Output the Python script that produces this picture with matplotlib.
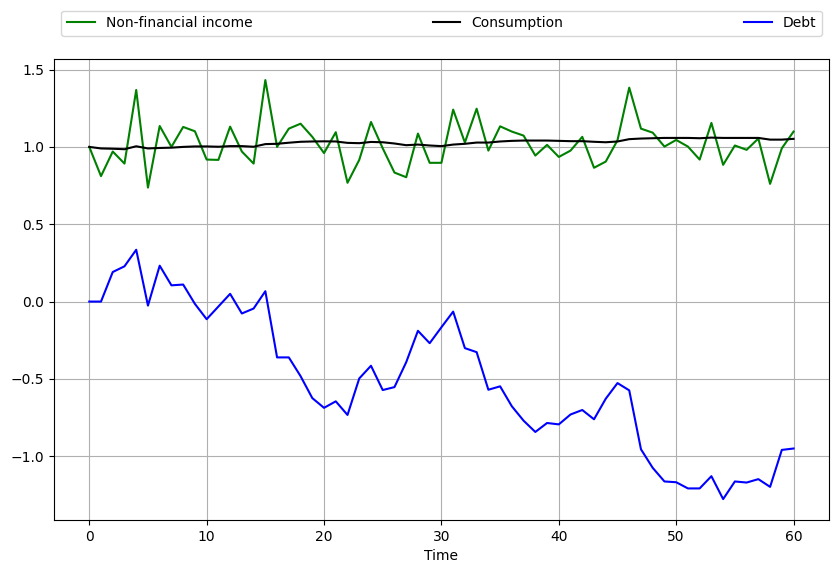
import numpy as np
import matplotlib.pyplot as plt

# values, t = 0..60
time = np.arange(61)

income = [1.000, 0.811, 0.970, 0.892, 1.368, 0.737, 1.135, 1.000, 1.129, 1.101,
          0.918, 0.916, 1.131, 0.970, 0.892, 1.432, 1.000, 1.118, 1.150, 1.065,
          0.960, 1.095, 0.768, 0.916, 1.161, 0.991, 0.834, 0.804, 1.086, 0.897,
          0.897, 1.241, 1.028, 1.247, 0.976, 1.133, 1.099, 1.073, 0.944, 1.013,
          0.935, 0.976, 1.065, 0.865, 0.905, 1.043, 1.383, 1.118, 1.092, 1.002,
          1.045, 1.002, 0.918, 1.155, 0.884, 1.009, 0.981, 1.054, 0.761, 0.991,
          1.099]

consumption = [1.000, 0.990, 0.988, 0.985, 1.004, 0.990, 0.993, 0.995, 1.000, 1.003,
               1.003, 1.001, 1.005, 1.005, 1.001, 1.018, 1.020, 1.027, 1.033, 1.035,
               1.036, 1.035, 1.026, 1.024, 1.032, 1.030, 1.022, 1.011, 1.015, 1.009,
               1.005, 1.015, 1.020, 1.028, 1.028, 1.035, 1.039, 1.041, 1.041, 1.041,
               1.039, 1.037, 1.037, 1.033, 1.030, 1.035, 1.050, 1.054, 1.056, 1.058,
               1.058, 1.058, 1.056, 1.060, 1.058, 1.058, 1.058, 1.058, 1.047, 1.047,
               1.052]

debt = [0.000, 0.000, 0.191, 0.228, 0.335, -0.026, 0.232, 0.105, 0.110, -0.015,
        -0.114, -0.032, 0.050, -0.077, -0.045, 0.067, -0.361, -0.361, -0.482, -0.624,
        -0.687, -0.645, -0.733, -0.497, -0.415, -0.572, -0.553, -0.392, -0.189, -0.269,
        -0.166, -0.065, -0.301, -0.327, -0.570, -0.548, -0.677, -0.770, -0.843, -0.785,
        -0.794, -0.730, -0.701, -0.761, -0.628, -0.527, -0.574, -0.955, -1.075, -1.163,
        -1.168, -1.208, -1.208, -1.129, -1.277, -1.163, -1.170, -1.148, -1.198, -0.959,
        -0.950]

fig = plt.figure(figsize=(8.38, 5.74), dpi=100)
ax = fig.add_axes([0.0645, 0.094, 0.9245, 0.803])

ax.plot(time, income, color='green', label='Non-financial income')
ax.plot(time, consumption, color='black', label='Consumption')
ax.plot(time, debt, color='blue', label='Debt')

ax.set_xlabel('Time')
ax.grid(True)

# legend spread across the top of the axes
ax.legend(bbox_to_anchor=(0.0094, 1.051, 0.9816, .05), loc='lower left',
          ncol=3, mode='expand', borderaxespad=0.)

plt.savefig('out.png')
